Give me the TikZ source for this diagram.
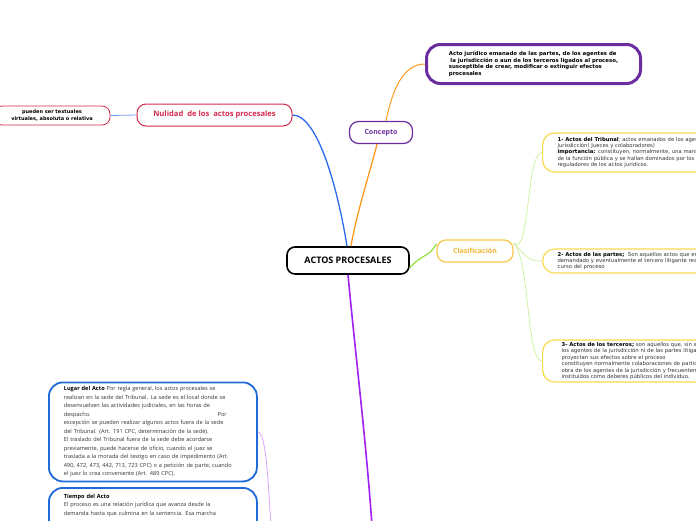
\documentclass[tikz,border=0pt]{standalone}
\usepackage{fontspec}
\setmainfont{Open Sans}
\newfontfamily\dvs{DejaVu Sans}
\definecolor{cpurple}{HTML}{6A2C9E}
\definecolor{corange}{HTML}{FF9A1F}
\definecolor{cblue}{HTML}{2A6BF0}
\definecolor{clblue}{HTML}{6F9BF2}
\definecolor{ccrimson}{HTML}{D42A4E}
\definecolor{cgreen}{HTML}{8EE03A}
\definecolor{clgreen}{HTML}{C8F09A}
\definecolor{cyellow}{HTML}{F8C84A}
\definecolor{cyellowtxt}{HTML}{F2B530}
\definecolor{cyellowbox}{HTML}{F9DB4E}
\definecolor{cviolet}{HTML}{A11FF2}
\definecolor{cdblue}{HTML}{1F6AD9}
\definecolor{clilac}{HTML}{D9A3FF}
\definecolor{ctext}{HTML}{333333}
\begin{document}
\begin{tikzpicture}[x=1pt,y=-1pt,
  root/.style={draw=black, line width=1.6pt, rounded corners=8pt, fill=white, minimum width=122pt, minimum height=27pt, inner sep=0pt, font=\bfseries\fontsize{9}{11}\selectfont},
  topic/.style={draw=#1, text=#1, line width=1.2pt, fill=white, rounded corners=9pt, inner sep=0pt, font=\bfseries\fontsize{7}{9}\selectfont},
  ybox/.style={draw=cyellowbox, line width=1.2pt, fill=white, rounded corners=12pt, anchor=west, align=left, text width=260pt, inner xsep=15pt, inner ysep=0pt, text=ctext, font=\dvs\fontsize{5.3}{6.4}\selectfont},
  bbox/.style={draw=cdblue, line width=1.8pt, fill=white, rounded corners=14pt, minimum width=208pt, inner sep=0pt, align=left, text=ctext, font=\fontsize{5.6}{8.5}\selectfont},
]
\useasboundingbox (0,0) rectangle (696,520);
\clip (0,0) rectangle (696,520);

\node[root] (root) at (348,260.5) {ACTOS PROCESALES};
\node[topic=cpurple, minimum width=63pt, minimum height=22pt] (conc) at (381,132.5) {Concepto};
\node[draw=cpurple, line width=3pt, rounded corners=14pt, fill=white, minimum width=214pt, minimum height=39pt, align=left, inner sep=0pt, font=\dvs\bfseries\fontsize{5.4}{6.7}\selectfont] (def) at (533.5,64) {Acto jurídico emanado de las partes, de los agentes de\\\hspace{1.5pt}la jurisdicción o aun de los terceros ligados al proceso,\\susceptible de crear, modificar o extinguir efectos\\procesales};
\node[topic=ccrimson, line width=1pt, minimum width=155pt, minimum height=22pt, font=\bfseries\fontsize{7.6}{9}\selectfont] (nul) at (214.5,115) {Nulidad\ \ de los\ \ actos procesales};
\node[draw=ccrimson, line width=0.8pt, rounded corners=8pt, fill=white, minimum width=116pt, minimum height=19pt, inner sep=0pt, align=center, font=\dvs\bfseries\fontsize{5}{7}\selectfont] (pue) at (52,115.5) {pueden ser textuales\\virtuales, absoluta o relativa};
\node[topic=cyellow, text=cyellowtxt, minimum width=76pt, minimum height=22pt] (clas) at (475,251) {Clasificación};

\node[ybox, minimum height=39pt] (t1) at (542,152.5) {{\color{black}\bfseries 1- Actos del Tribunal}; actos emanados de los agentes de la\\jurisdicción( Jueces y colaboradores)\\{\color{black}\bfseries importancia:} constituyen, normalmente, una manifestación\\de la función pública y se hallan dominados por los principios\\reguladores de los actos jurídicos.};
\node[ybox, minimum height=24pt] (t2) at (542,261) {{\color{black}\bfseries 2- Actos de las partes;}\ \ Son aquellos actos que emanan del actor,\\demandado y eventualmente el tercero litigante realizados en el\\curso del proceso};
\node[ybox, minimum height=42pt, inner xsep=19pt] (t3) at (542,361) {{\color{black}\bfseries 3- Actos de los terceros;} son aquellos que, sin ser\\los agentes de la jurisdicción ni de las partes litigantes,\\proyectan sus efectos sobre el proceso\\constituyen normalmente colaboraciones de particulares a la\\obra de los agentes de la jurisdicción y frecuentemente\\instituidos como deberes públicos del individuo.};

\node[bbox, anchor=north west, minimum height=99pt, text width=178pt, inner xsep=15pt] (lug) at (48,381.5) {{\color{black}\bfseries Lugar del Acto} Por regla general, los actos procesales se\\realizan en la sede del Tribunal. La sede es el local donde se\\desenvuelven las actividades judiciales, en las horas de\\despacho.\hspace{127pt}Por\\excepción se pueden realizar algunos actos fuera de la sede\\del Tribunal. (Art. 191 CPC, determinación de la sede).\\El traslado del Tribunal fuera de la sede debe acordarse\\previamente, puede hacerse de oficio, cuando el juez se\\traslada a la morada del testigo en caso de impedimento (Art.\\490, 472, 473, 442, 713, 723 CPC) o a petición de parte, cuando\\el juez lo crea conveniente (Art. 489 CPC).};
\node[bbox, anchor=north west, text width=178pt, inner xsep=15pt, inner ysep=6pt, text depth=30pt] (tie) at (48,487) {{\color{black}\bfseries Tiempo del Acto}\\El proceso es una relación jurídica que avanza desde la\\demanda hasta que culmina en la sentencia. Esa marcha};

\coordinate (clasr) at ([yshift=8pt]clas.east);
\coordinate (bot) at (372,526);
\coordinate (bot2) at (271,526);

\draw[cblue, line width=1.3pt] ([xshift=-1pt]root.north) .. controls (338,190) and (318,115) .. (nul.east);
\draw[clblue, line width=0.8pt] (nul.west) -- (pue.east);
\draw[corange, line width=1.3pt] ([xshift=3pt]root.north) .. controls (356,215) and (372,165) .. ([xshift=-4pt]conc.south);
\draw[corange, line width=1pt] ([xshift=5pt]conc.north) .. controls (392,92) and (402,64) .. (def.west);
\draw[cgreen, line width=1.2pt] ([yshift=-7pt]root.east) .. controls (425,252) and (428,258) .. ([yshift=7pt]clas.west);
\draw[clgreen, line width=0.7pt] (clasr) .. controls (530,259) and (526,152.5) .. (t1.west);
\draw[clgreen, line width=0.7pt] (clasr) .. controls (528,259) and (530,261) .. (t2.west);
\draw[clgreen, line width=0.7pt] (clasr) .. controls (530,259) and (526,361) .. (t3.west);
\draw[cviolet, line width=1.6pt] (root.south) .. controls (356,360) and (366,440) .. (bot);
\draw[clilac, line width=0.8pt] (lug.east) .. controls (266,432) and (268,480) .. (bot2);
\end{tikzpicture}
\end{document}
